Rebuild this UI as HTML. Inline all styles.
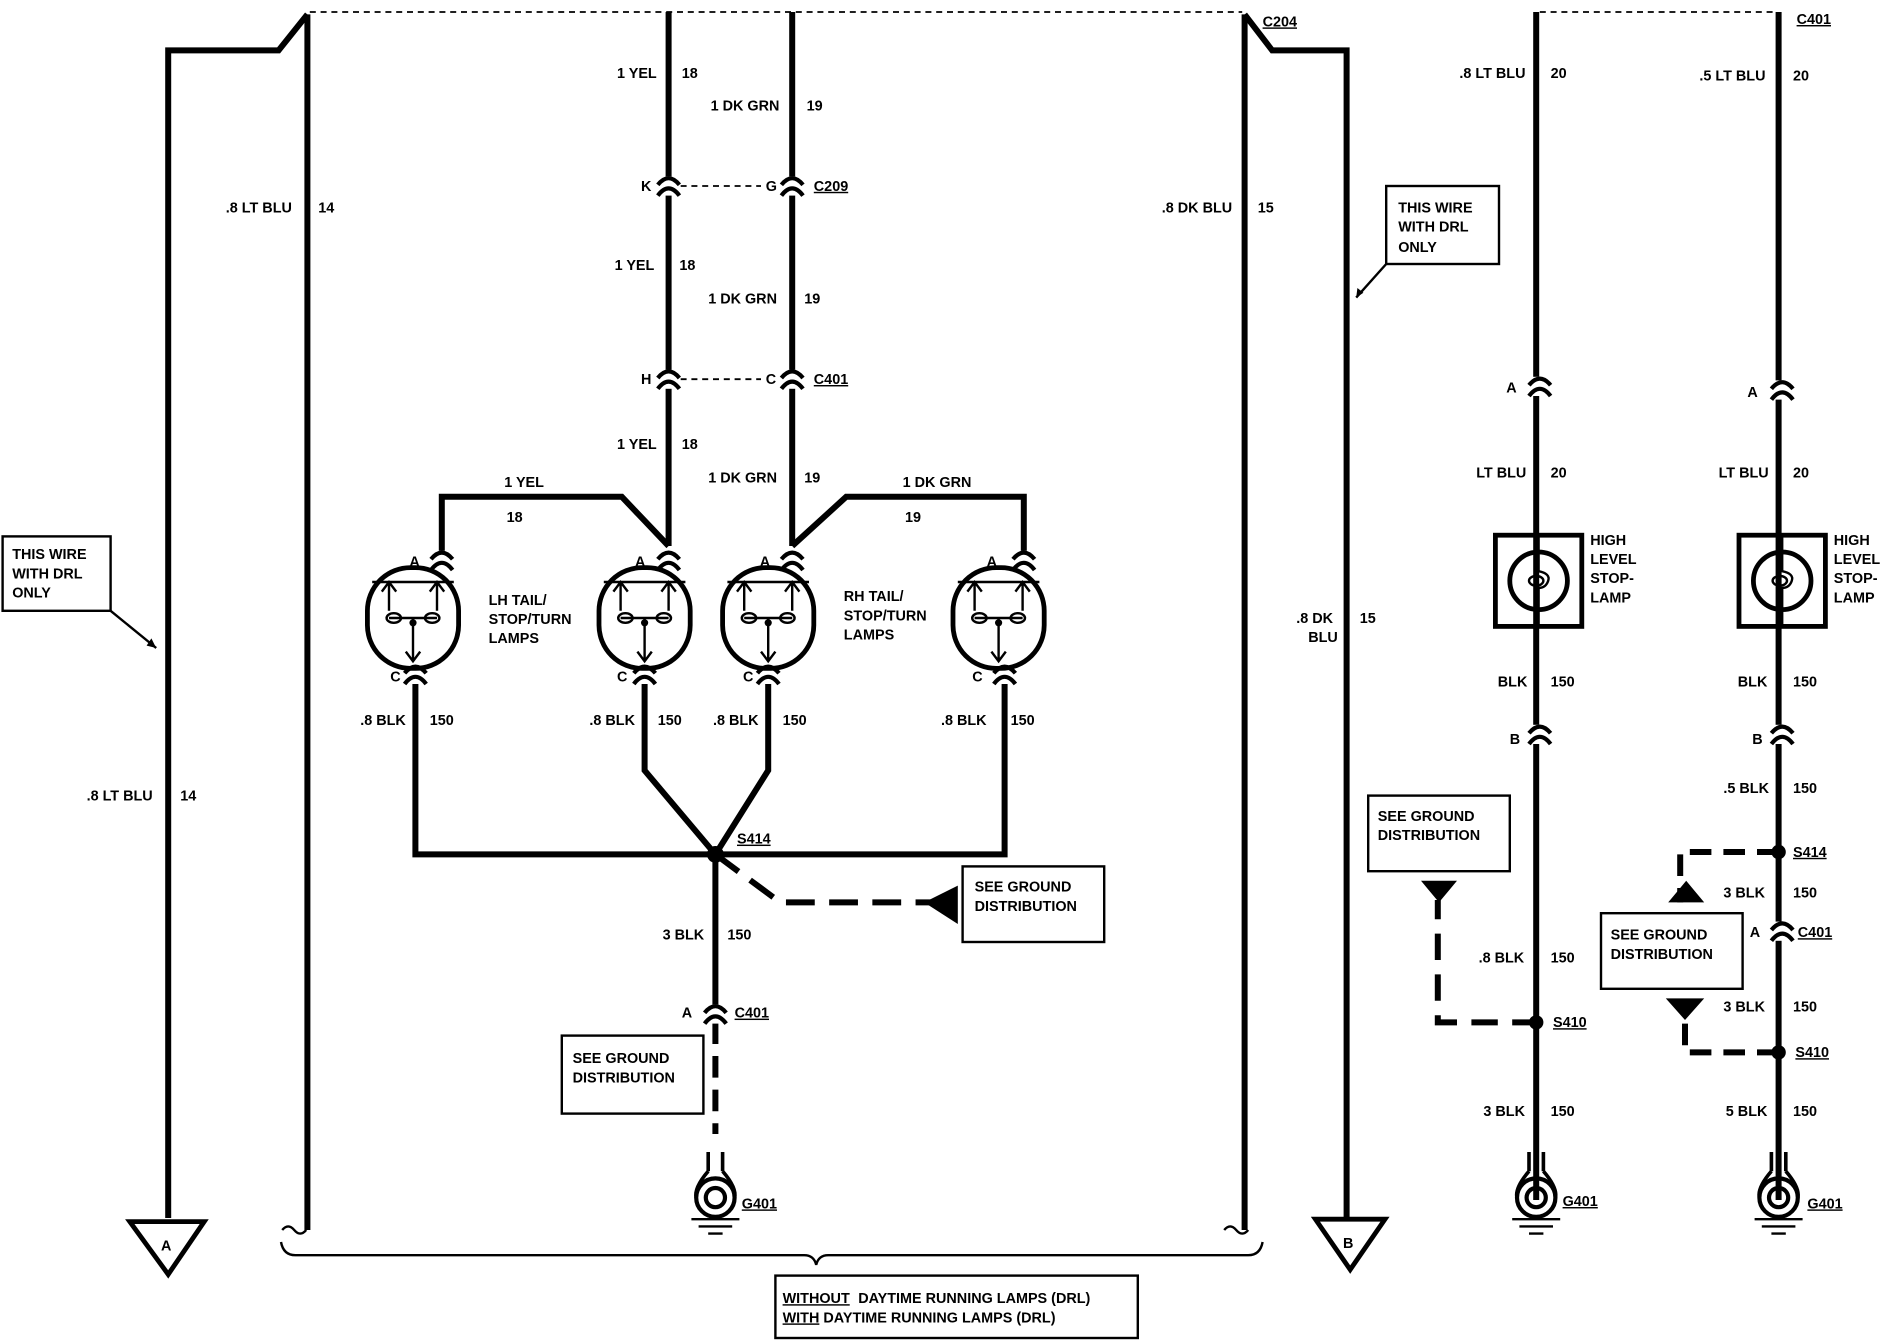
<!DOCTYPE html>
<html><head><meta charset="utf-8"><style>
html,body{margin:0;padding:0;background:#fff;}
svg{display:block}
text{font-family:"Liberation Sans",sans-serif;font-weight:bold;font-size:12px;fill:#000}
</style></head><body>
<svg width="1882" height="1344" viewBox="0 0 1568 1120" xmlns="http://www.w3.org/2000/svg">
<defs>
<g id="conn"><rect x="-10" y="-8" width="20" height="16" fill="#fff"/><path d="M-9 -1 Q0 -12 9 -1" fill="none" stroke="#000" stroke-width="3.5"/><path d="M-9 8 Q0 -4 9 8" fill="none" stroke="#000" stroke-width="3.5"/></g>
<g id="lamp"><rect x="-38" y="-42" width="76" height="84" rx="36" fill="none" stroke="#000" stroke-width="4"/>
<path d="M-34 -30 H34 M-20 -30 V-6 M20 -30 V-6 M-26 -22 L-20 -30 L-14 -22 M14 -22 L20 -30 L26 -22 M0 0 V36 M-6 28 L0 36 L6 28 M-20 0 H20" fill="none" stroke="#000" stroke-width="2"/>
<ellipse cx="-16" cy="0" rx="6" ry="4" fill="none" stroke="#000" stroke-width="2"/><ellipse cx="16" cy="0" rx="6" ry="4" fill="none" stroke="#000" stroke-width="2"/><circle cx="0" cy="4" r="3"/></g>
<g id="gnd"><path d="M-6 -30 V-14 M6 -30 V-14 M-6 -14 Q-18 0 -16 8 M6 -14 Q18 0 16 8" fill="none" stroke="#000" stroke-width="3"/>
<circle cx="0" cy="8" r="16" fill="none" stroke="#000" stroke-width="3.5"/><circle cx="0" cy="8" r="8" fill="none" stroke="#000" stroke-width="3.5"/>
<path d="M-20 26 H20 M-14 32 H14 M-6 38 H6" stroke="#000" stroke-width="2"/></g>
<g id="hls"><rect x="-36" y="-38" width="72" height="76" fill="none" stroke="#000" stroke-width="4"/><circle r="24" fill="none" stroke="#000" stroke-width="4"/>
<path d="M0 -38 V-8 Q10 -6 8 0 Q6 6 0 6 V38" fill="none" stroke="#000" stroke-width="2"/><ellipse cx="-2" cy="0" rx="6" ry="4" fill="none" stroke="#000" stroke-width="2"/></g>
</defs>
<g fill="none" stroke="#000" stroke-width="5">
<path d="M258 10 H1035 M1283 10 H1480" stroke-width="1.5" stroke-dasharray="5 4"/>
<path d="M140 1015 V42 H232 L256 12"/><path d="M256 12 V1025"/>
<path d="M1037 12 V1025"/><path d="M1037 12 L1060 42 H1122 V1015"/>
<path d="M557 10 V455 M660 10 V455"/>
<path d="M567 155 H634 M567 316 H634" stroke-width="1.5" stroke-dasharray="5 4"/>
<path d="M557 455 L518 414 H368 V463"/>
<path d="M660 455 L705 414 H853 V463"/>
<path d="M346 562 V712 H837 V562"/>
<path d="M537 562 V642 L596 712 L640 642 V562"/>
<path d="M596 712 V848"/>
<path d="M596 852 V945" stroke-dasharray="18 10"/>
<path d="M596 712 L650 752 H780" stroke-dasharray="24 12"/>
<path d="M1280 10 V1000 M1482 10 V1000"/>
<path d="M1282 852 H1198 V750" stroke-dasharray="22 12"/>
<path d="M1482 710 H1400 V752 M1482 877 H1404 V850" stroke-dasharray="18 10"/>
</g>
<path d="M108 1018 H170 L140 1062 Z M1096 1016 H1154 L1125 1058 Z" fill="none" stroke="#000" stroke-width="4"/>
<text x="134" y="1042" font-size="16">A</text><text x="1119" y="1040" font-size="16">B</text>
<path d="M770 752 L798 738 L798 770 Z" fill="#000"/>
<path d="M1184 734 H1214 L1199 752 Z M1390 752 H1420 L1405 734 Z M1388 832 H1420 L1404 850 Z" fill="#000"/>
<use href="#conn" x="557" y="155"/><use href="#conn" x="660" y="155"/><use href="#conn" x="557" y="316"/><use href="#conn" x="660" y="316"/>
<use href="#conn" x="596" y="845"/><use href="#conn" x="1283" y="322"/><use href="#conn" x="1485" y="325"/><use href="#conn" x="1283" y="612"/><use href="#conn" x="1485" y="612"/><use href="#conn" x="1485" y="776"/>
<use href="#conn" x="368" y="467"/><use href="#conn" x="557" y="467"/><use href="#conn" x="660" y="467"/><use href="#conn" x="853" y="467"/>
<use href="#conn" x="346" y="562"/><use href="#conn" x="537" y="562"/><use href="#conn" x="640" y="562"/><use href="#conn" x="837" y="562"/>
<use href="#lamp" x="344" y="515"/><use href="#lamp" x="537" y="515"/><use href="#lamp" x="640" y="515"/><use href="#lamp" x="832" y="515"/>
<use href="#gnd" x="596" y="990"/><use href="#gnd" x="1280" y="990"/><use href="#gnd" x="1482" y="990"/>
<use href="#hls" x="1282" y="484"/><use href="#hls" x="1485" y="484"/>
<circle cx="596" cy="712" r="7" fill="#000"/><circle cx="1280" cy="852" r="6"/><circle cx="1482" cy="710" r="6"/><circle cx="1482" cy="877" r="6"/>
<g fill="none" stroke="#000" stroke-width="2">
<rect x="2" y="447" width="90" height="62"/><rect x="1155" y="155" width="94" height="65"/>
<rect x="802" y="722" width="118" height="63"/><rect x="468" y="863" width="118" height="65"/>
<rect x="1140" y="663" width="118" height="63"/><rect x="1334" y="761" width="118" height="63"/>
<rect x="646" y="1063" width="302" height="52"/>
<path d="M92 509 L130 540 M1155 220 L1130 248" />
<path d="M234 1035 Q236 1046 246 1046 H670 Q678 1046 680 1054 Q682 1046 690 1046 H1040 Q1050 1046 1052 1035"/>
<path d="M235 1025 q5 -6 10 0 q5 6 10 0 M1020 1025 q5 -6 10 0 q5 6 10 0"/>
</g>
<path d="M130 540 l-8 -2 l4 -6 Z M1130 248 l1 -8 l5 4 Z" fill="#000"/>
<text x="188" y="177">.8 LT BLU</text><text x="265" y="177">14</text>
<text x="72" y="667">.8 LT BLU</text><text x="150" y="667">14</text>
<text x="968" y="177">.8 DK BLU</text><text x="1048" y="177">15</text>
<text x="1080" y="519">.8 DK</text><text x="1090" y="535">BLU</text><text x="1133" y="519">15</text>
<text x="10" y="466">THIS WIRE</text><text x="10" y="482">WITH DRL</text><text x="10" y="498">ONLY</text>
<text x="1165" y="177">THIS WIRE</text><text x="1165" y="193">WITH DRL</text><text x="1165" y="210">ONLY</text>
<text x="514" y="65">1 YEL</text><text x="568" y="65">18</text><text x="592" y="92">1 DK GRN</text><text x="672" y="92">19</text>
<text x="534" y="159">K</text><text x="638" y="159">G</text><text x="678" y="159" text-decoration="underline">C209</text>
<text x="512" y="225">1 YEL</text><text x="566" y="225">18</text><text x="590" y="253">1 DK GRN</text><text x="670" y="253">19</text>
<text x="534" y="320">H</text><text x="638" y="320">C</text><text x="678" y="320" text-decoration="underline">C401</text>
<text x="514" y="374">1 YEL</text><text x="568" y="374">18</text><text x="590" y="402">1 DK GRN</text><text x="670" y="402">19</text>
<text x="420" y="406">1 YEL</text><text x="422" y="435">18</text><text x="752" y="406">1  DK GRN</text><text x="754" y="435">19</text>
<text x="341" y="472">A</text><text x="529" y="472">A</text><text x="633" y="472">A</text><text x="822" y="472">A</text>
<text x="407" y="504">LH TAIL/</text><text x="407" y="520">STOP/TURN</text><text x="407" y="536">LAMPS</text>
<text x="703" y="501">RH TAIL/</text><text x="703" y="517">STOP/TURN</text><text x="703" y="533">LAMPS</text>
<text x="325" y="568">C</text><text x="514" y="568">C</text><text x="619" y="568">C</text><text x="810" y="568">C</text>
<text x="300" y="604">.8 BLK</text><text x="358" y="604">150</text><text x="491" y="604">.8 BLK</text><text x="548" y="604">150</text>
<text x="594" y="604">.8 BLK</text><text x="652" y="604">150</text><text x="784" y="604">.8 BLK</text><text x="842" y="604">150</text>
<text x="614" y="703" text-decoration="underline">S414</text>
<text x="812" y="743">SEE GROUND</text><text x="812" y="759">DISTRIBUTION</text>
<text x="552" y="783">3 BLK</text><text x="606" y="783">150</text>
<text x="568" y="848">A</text><text x="612" y="848" text-decoration="underline">C401</text>
<text x="477" y="886">SEE GROUND</text><text x="477" y="902">DISTRIBUTION</text>
<text x="618" y="1007" text-decoration="underline">G401</text>
<text x="652" y="1086" text-decoration="underline">WITHOUT</text><text x="715" y="1086">DAYTIME RUNNING LAMPS (DRL)</text>
<text x="652" y="1102" text-decoration="underline">WITH</text><text x="686" y="1102">DAYTIME RUNNING LAMPS (DRL)</text>
<text x="1052" y="22" text-decoration="underline">C204</text><text x="1497" y="20" text-decoration="underline">C401</text>
<text x="1216" y="65">.8 LT BLU</text><text x="1292" y="65">20</text><text x="1416" y="67">.5 LT BLU</text><text x="1494" y="67">20</text>
<text x="1255" y="327">A</text><text x="1456" y="331">A</text>
<text x="1230" y="398">LT BLU</text><text x="1292" y="398">20</text><text x="1432" y="398">LT BLU</text><text x="1494" y="398">20</text>
<text x="1325" y="454">HIGH</text><text x="1325" y="470">LEVEL</text><text x="1325" y="486">STOP-</text><text x="1325" y="502">LAMP</text>
<text x="1528" y="454">HIGH</text><text x="1528" y="470">LEVEL</text><text x="1528" y="486">STOP-</text><text x="1528" y="502">LAMP</text>
<text x="1248" y="572">BLK</text><text x="1292" y="572">150</text><text x="1448" y="572">BLK</text><text x="1494" y="572">150</text>
<text x="1258" y="620">B</text><text x="1460" y="620">B</text>
<text x="1436" y="661">.5 BLK</text><text x="1494" y="661">150</text>
<text x="1148" y="684">SEE GROUND</text><text x="1148" y="700">DISTRIBUTION</text>
<text x="1494" y="714" text-decoration="underline">S414</text>
<text x="1436" y="748">3 BLK</text><text x="1494" y="748">150</text>
<text x="1458" y="781">A</text><text x="1498" y="781" text-decoration="underline">C401</text>
<text x="1342" y="783">SEE GROUND</text><text x="1342" y="799">DISTRIBUTION</text>
<text x="1232" y="802">.8 BLK</text><text x="1292" y="802">150</text>
<text x="1436" y="843">3 BLK</text><text x="1494" y="843">150</text>
<text x="1294" y="856" text-decoration="underline">S410</text><text x="1496" y="881" text-decoration="underline">S410</text>
<text x="1236" y="930">3 BLK</text><text x="1292" y="930">150</text><text x="1438" y="930">5 BLK</text><text x="1494" y="930">150</text>
<text x="1302" y="1005" text-decoration="underline">G401</text><text x="1506" y="1007" text-decoration="underline">G401</text>
</svg>
</body></html>
